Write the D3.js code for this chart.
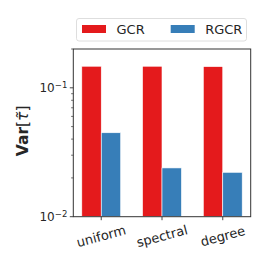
<!DOCTYPE html>
<meta charset="utf-8">
<style>
body { margin: 0; background: #fff; }
svg { font-family: "DejaVu Sans", sans-serif; }
</style>
<body>
<svg width="263" height="263"></svg>
<script src="https://d3js.org/d3.v7.min.js"></script>
<script>
var methods = ["uniform", "spectral", "degree"];
var seriesNames = ["GCR", "RGCR"];
var gcr = [0.147, 0.147, 0.146];
var rgcr = [0.0448, 0.0239, 0.0221];
var colors = ["#e41a1c", "#377eb8"];

var svg = d3.select("svg"),
    plotLeft = 73.3, plotRight = 250.7, plotTop = 49, plotBottom = 216.7;

var x = d3.scalePoint()
    .domain(methods)
    .range([plotLeft, plotRight])
    .padding(0.46);

var y = d3.scaleLog()
    .domain([0.01, 0.2])
    .range([plotBottom, plotTop]);

var barW = x.step() * 0.32;

// bars
var series = [gcr, rgcr];
series.forEach(function(vals, s) {
  svg.append("g")
    .selectAll("rect")
    .data(vals)
    .enter().append("rect")
      .attr("x", function(d, i) { return x(methods[i]) + (s - 1) * barW; })
      .attr("y", function(d) { return y(d); })
      .attr("width", barW)
      .attr("height", function(d) { return plotBottom - y(d); })
      .style("fill", colors[s])
      .style("stroke", "#fff")
      .style("stroke-width", 0.6);
});

// frame
svg.append("rect")
    .attr("x", plotLeft).attr("y", plotTop)
    .attr("width", plotRight - plotLeft).attr("height", plotBottom - plotTop)
    .style("fill", "none")
    .style("stroke", "#333")
    .style("stroke-width", 1);

// y ticks
var minor = [0.02, 0.03, 0.04, 0.05, 0.06, 0.07, 0.08, 0.09, 0.2];
svg.append("g").selectAll("line")
    .data(minor)
    .enter().append("line")
      .attr("x1", plotLeft - 2.2).attr("x2", plotLeft)
      .attr("y1", function(d) { return y(d); })
      .attr("y2", function(d) { return y(d); })
      .style("stroke", "#333").style("stroke-width", 0.7);

var major = [0.01, 0.1];
svg.append("g").selectAll("line")
    .data(major)
    .enter().append("line")
      .attr("x1", plotLeft - 3.5).attr("x2", plotLeft)
      .attr("y1", function(d) { return y(d); })
      .attr("y2", function(d) { return y(d); })
      .style("stroke", "#333").style("stroke-width", 0.9);

var yl = svg.append("g").selectAll("text")
    .data(major)
    .enter().append("text")
      .attr("x", plotLeft - 6)
      .attr("y", function(d) { return y(d); })
      .attr("dy", "0.35em")
      .attr("text-anchor", "end")
      .style("font-size", "12px")
      .style("fill", "#262626");
yl.append("tspan").text("10");
yl.append("tspan")
    .attr("dy", "-0.45em")
    .style("font-size", "8.5px")
    .text(function(d) { return "\u2212" + Math.round(-Math.log10(d)); });

// x ticks
svg.append("g").selectAll("line")
    .data(methods)
    .enter().append("line")
      .attr("x1", function(d) { return x(d); })
      .attr("x2", function(d) { return x(d); })
      .attr("y1", plotBottom).attr("y2", plotBottom + 3.5)
      .style("stroke", "#333").style("stroke-width", 0.9);

svg.append("g").selectAll("text")
    .data(methods)
    .enter().append("text")
      .attr("transform", function(d) { return "translate(" + x(d) + "," + (plotBottom + 19.5) + ") rotate(-15)"; })
      .attr("text-anchor", "middle")
      .attr("dy", "0.35em")
      .style("font-size", "13px")
      .style("fill", "#262626")
      .text(function(d) { return d; });

// y label
var ylab = svg.append("text")
    .attr("transform", "translate(28," + ((plotTop + plotBottom) / 2 - 2) + ") rotate(-90)")
    .attr("text-anchor", "middle")
    .style("font-size", "15.5px")
    .style("fill", "#262626");
ylab.append("tspan").style("font-weight", "bold").text("Var");
ylab.append("tspan").text("[");
ylab.append("tspan").style("font-style", "italic").text("\u03C4\u0303");
ylab.append("tspan").text("]");

// legend
var leg = svg.append("g");
leg.append("rect")
    .attr("x", 76.5).attr("y", 18.5)
    .attr("width", 170).attr("height", 22.5)
    .attr("rx", 2.5)
    .style("fill", "#fff")
    .style("stroke", "#d6d6d6")
    .style("stroke-width", 0.8);
var legX = [82, 170.7];
seriesNames.forEach(function(name, s) {
  leg.append("rect")
      .attr("x", legX[s]).attr("y", 25)
      .attr("width", 24).attr("height", 8)
      .style("fill", colors[s]);
  leg.append("text")
      .attr("x", legX[s] + 34.5).attr("y", 29.3)
      .attr("dy", "0.35em")
      .style("font-size", "13px")
      .style("fill", "#262626")
      .text(name);
});
</script>
</body>
